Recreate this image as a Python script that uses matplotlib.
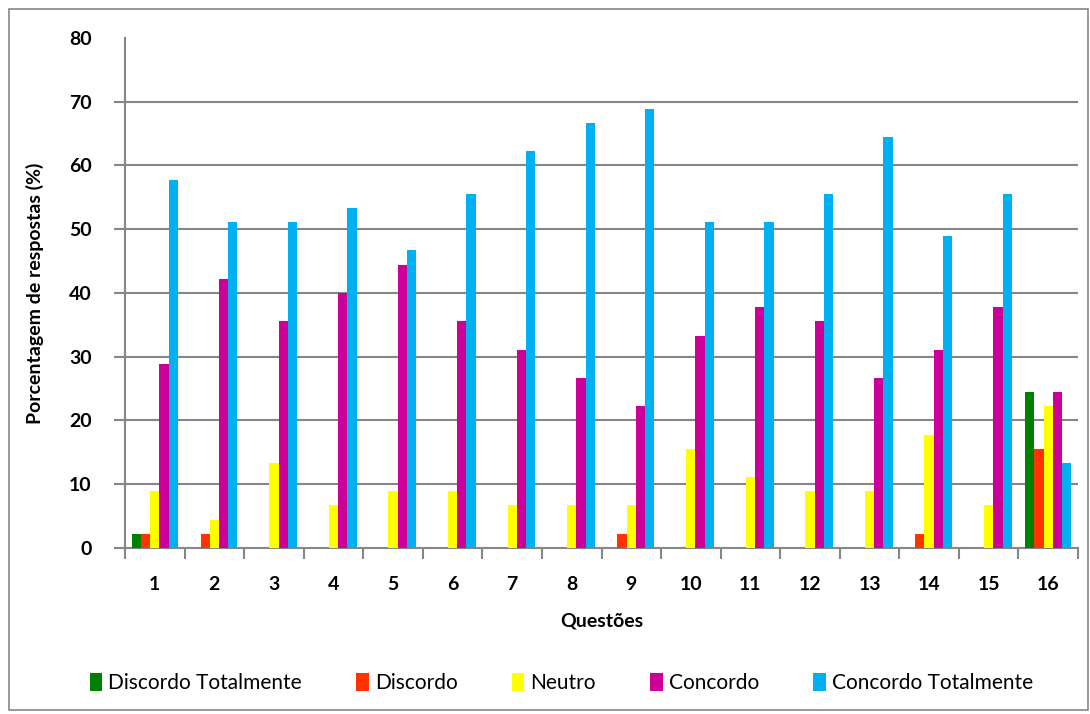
import matplotlib
matplotlib.use("Agg")
import matplotlib.pyplot as plt
import numpy as np
from matplotlib.patches import Rectangle

questions = [str(i) for i in range(1, 17)]
discordo_totalmente = [2.2, 0, 0, 0, 0, 0, 0, 0, 0, 0, 0, 0, 0, 0, 0, 24.4]
discordo = [2.2, 2.2, 0, 0, 0, 0, 0, 0, 2.2, 0, 0, 0, 0, 2.2, 0, 15.6]
neutro = [8.9, 4.4, 13.3, 6.7, 8.9, 8.9, 6.7, 6.7, 6.7, 15.6, 11.1, 8.9, 8.9, 17.8, 6.7, 22.2]
concordo = [28.9, 42.2, 35.6, 40.0, 44.4, 35.6, 31.1, 26.7, 22.2, 33.3, 37.8, 35.6, 26.7, 31.1, 37.8, 24.4]
concordo_totalmente = [57.8, 51.1, 51.1, 53.3, 46.7, 55.6, 62.2, 66.7, 68.9, 51.1, 51.1, 55.6, 64.4, 48.9, 55.6, 13.3]

series_names = ["Discordo Totalmente", "Discordo", "Neutro", "Concordo", "Concordo Totalmente"]
series_values = [discordo_totalmente, discordo, neutro, concordo, concordo_totalmente]
colors = ["#008000", "#FF3300", "#FFFF00", "#CC0099", "#00B0F0"]

plt.rcParams['font.family'] = ['Lato', 'DejaVu Sans']

fig = plt.figure(figsize=(10.9, 7.14), dpi=100)
ax = fig.add_axes([0.1147, 0.2325, 0.8743, 0.7143])

x = np.arange(len(questions))
w = 0.155
for i, (name, vals, c) in enumerate(zip(series_names, series_values, colors)):
    ax.bar(x + (i - 2) * w, vals, width=w, color=c, label=name, zorder=3)

yticks = list(range(0, 81, 10))
ax.set_xlim(-0.5, len(questions) - 0.5)
ax.set_ylim(0, 80)
ax.set_yticks(yticks)
ax.set_yticklabels([str(v) for v in yticks], fontsize=14, fontweight='bold')
ax.set_xticks(x)
ax.set_xticklabels(questions, fontsize=14, fontweight='bold')
ax.set_xticks(np.arange(-0.5, len(questions), 1), minor=True)
ax.tick_params(axis='x', which='major', length=0, pad=20)
ax.tick_params(axis='x', which='minor', length=8, width=1.5, color='#868686', direction='out')
ax.tick_params(axis='y', length=8, width=1.5, color='#868686', pad=16)
# no tick mark at the top label
ax.yaxis.get_major_ticks()[-1].tick1line.set_visible(False)

for v in yticks[1:-1]:
    ax.axhline(v, color='#868686', linewidth=1.5, zorder=0)
for s in ['top', 'right']:
    ax.spines[s].set_visible(False)
for s in ['left', 'bottom']:
    ax.spines[s].set_color('#868686')
    ax.spines[s].set_linewidth(1.5)

ax.set_ylabel("Porcentagem de respostas (%)", fontsize=14, fontweight='bold', labelpad=18)
ax.set_xlabel("Questões", fontsize=14, fontweight='bold', labelpad=14)

leg = fig.legend(loc='center', bbox_to_anchor=(0.515, 0.043), ncol=5, frameon=False,
                 fontsize=15, handlelength=0.6, handleheight=0.9, handletextpad=0.3,
                 columnspacing=2.6)

fig.add_artist(Rectangle((0.008, 0.005), 0.99, 0.982, transform=fig.transFigure,
                         fill=False, edgecolor='#868686', linewidth=1.2))

fig.savefig("out.png", dpi=100)
